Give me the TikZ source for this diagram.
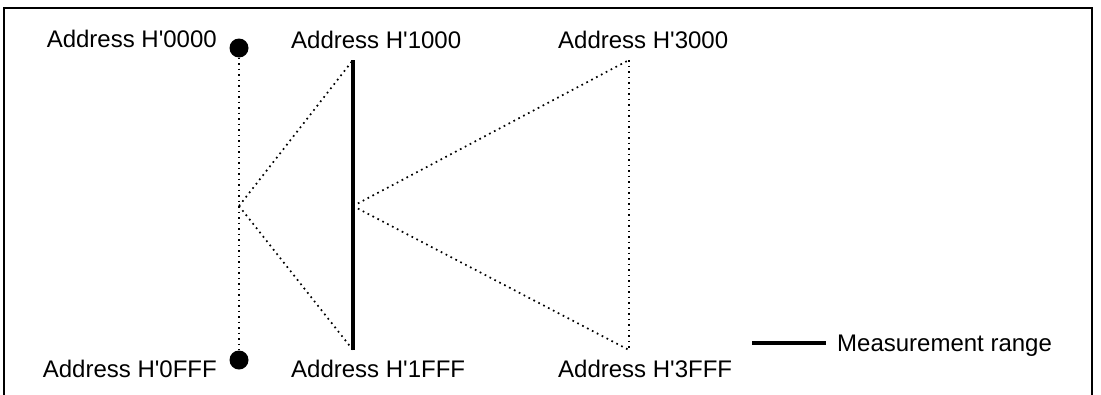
\documentclass[tikz,border=0pt]{standalone}
\usepackage{fontspec}
\setmainfont{Liberation Sans}
\usetikzlibrary{positioning}
\definecolor{ink}{HTML}{000000}
\tikzset{
  every node/.style = {text=ink},
  adtext/.style  = {font=\fontsize{24}{28}\selectfont, inner sep=0pt},
  addot/.style   = {circle, fill=ink, draw=none, inner sep=0pt, minimum size=19pt},
  adlink/.style  = {draw=ink, line width=1.7pt, dash pattern=on 1.7pt off 3.8pt},
  adrange/.style = {draw=ink, line width=4.5pt},
  adframe/.style = {draw=ink, line width=2.2pt},
}
\newcommand{\addr}[1]{Address H\textquotesingle#1}

\begin{document}
\begin{tikzpicture}[x=1pt, y=-1pt]
\useasboundingbox (0,0) rectangle (1101,394);
\draw[adframe] (4,400) -- (4,8) -- (1092,8) -- (1092,400);

% H'0000 - H'0FFF
\node[addot] (d0) at (239,48) {};
\node[addot] (d1) at (239,360) {};
\coordinate (mid0) at (239,206);
\node[adtext, anchor=base east] (l0000) at (217,47) {\addr{0000}};
\node[adtext, anchor=base east] (l0FFF) at (217,377) {\addr{0FFF}};

% measured block H'1000 - H'1FFF
\coordinate (m0) at (353,60);
\coordinate (m1) at (353,350);
\coordinate (mid1) at (353,206);
\node[adtext, anchor=base west] (l1000) at (291,48) {\addr{1000}};
\node[adtext, anchor=base west] (l1FFF) at (291,377) {\addr{1FFF}};

% H'3000 - H'3FFF
\coordinate (t0) at (629,60);
\coordinate (t1) at (629,350);
\node[adtext, anchor=base west] (l3000) at (558,48) {\addr{3000}};
\node[adtext, anchor=base west] (l3FFF) at (558,377) {\addr{3FFF}};

\draw[adlink] (d0) -- (d1);
\draw[adlink] (mid0) -- (m0);
\draw[adlink] (mid0) -- (m1);
\draw[adlink] (mid1) -- (t0);
\draw[adlink] (mid1) -- (t1);
\draw[adlink] (t0) -- (t1);
\draw[adrange] (m0) -- (m1);

% legend
\coordinate (lgA) at (752,343);
\coordinate (lgB) at (826,343);
\draw[adrange] (lgA) -- (lgB);
\node[adtext, right=11pt of lgB, yshift=-3pt] (lgtext) {Measurement range};
\end{tikzpicture}
\end{document}
